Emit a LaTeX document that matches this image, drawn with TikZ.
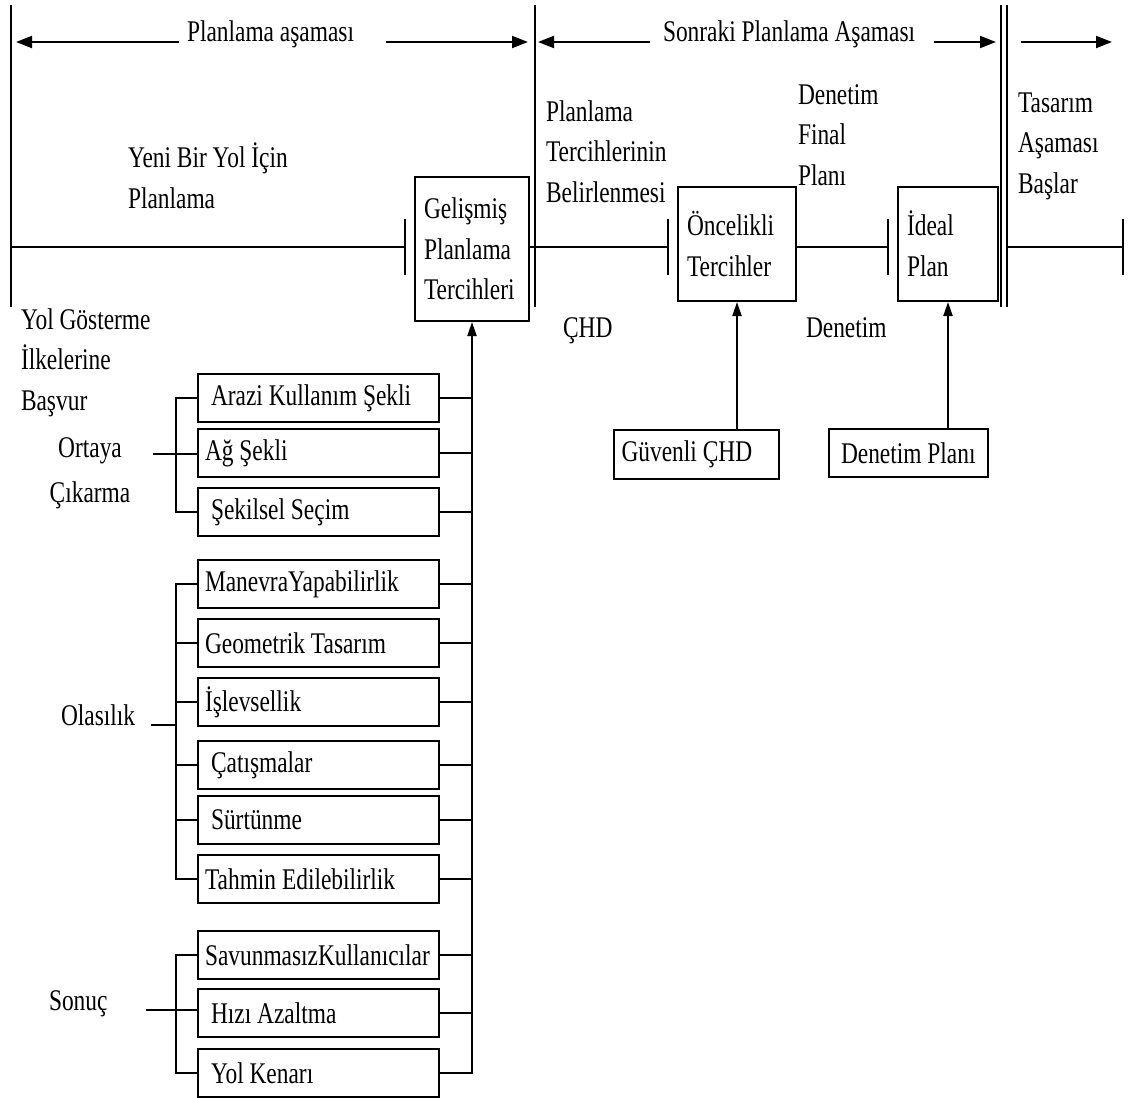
\documentclass[tikz,border=0pt]{standalone}
\usepackage{fontspec}
\setmainfont{Liberation Serif}[FakeStretch=0.78]
\usetikzlibrary{arrows.meta}
\usetikzlibrary{calc}
\newcommand{\stopmark}[1] % short upright bar on the time line
{
	\draw (#1) ++(0,-28) -- ++(0,56);
}
\tikzset{
	every node/.style={font=\fontsize{15pt}{20.25pt}\selectfont},
	note/.style={align=left, inner sep=0pt, anchor=base west},
	stagebox/.style={draw, fill=white, anchor=north west, inner xsep=4.5pt, execute at begin node={\spaceskip=0pt\relax}},
	optbox/.style={draw, fill=white, anchor=west, minimum width=120.5pt, minimum height=24pt, text width=113.5pt, inner xsep=3.5pt, execute at begin node={\spaceskip=0pt\relax}},
	indented/.style={execute at begin node={\spaceskip=0pt\relax\hspace{3pt}}},
	phase/.style={-{Triangle[length=8pt,width=6pt]}},
	feed/.style={-{Triangle[length=7pt,width=4.5pt]}}
}
\begin{document}
\begin{tikzpicture}[x=0.5pt, y=-0.5pt, line width=1pt]
	\useasboundingbox (0,0) rectangle (1129,1097);
	% phase borders
	\coordinate (start) at (11,5);
	\coordinate (mid) at (535,5);
	\coordinate (design) at (1001,5);
	\draw (start) -- ++(0,302);
	\draw (mid) -- ++(0,302);
	\draw (design) -- ++(0,302);
	\draw ([xshift=3pt]design) -- ++(0,302);
	
	% phase names with arrows
	\node[note] (planphase) at (186,42) {Planlama aşaması};
	\draw[phase] ([xshift=-3.5pt]planphase.base west) -- ([xshift=2.5pt]planphase.base west -| start);
	\draw[phase] ([xshift=15.5pt]planphase.base east) -- ([xshift=-3.5pt]planphase.base east -| mid);
	\node[note] (nextphase) at (662,42) {Sonraki Planlama Aşaması};
	\draw[phase] ([xshift=-6pt]nextphase.base west) -- ([xshift=1.5pt]nextphase.base west -| mid);
	\draw[phase] ([xshift=9pt]nextphase.base east) -- ([xshift=-2.5pt]nextphase.base east -| design);
	\coordinate (designarrow) at (1112,42);
	\draw[phase] ([xshift=10pt]design |- designarrow) -- (designarrow);
	
	% stages on the time line
	\node[stagebox, minimum width=57pt, minimum height=72pt, text width=48pt] (gelismis) at (414,176) {Gelişmiş\\Planlama\\Tercihleri};
	\node[stagebox, minimum width=59pt, minimum height=57pt, text width=50pt] (oncelikli) at (677,186) {Öncelikli\\Tercihler};
	\node[stagebox, minimum width=50pt, minimum height=57pt, text width=41pt, inner xsep=3pt] (ideal) at (897,186) {İdeal\\Plan};
	
	\coordinate (t1) at (405,247);
	\coordinate (t2) at (668,247);
	\coordinate (t3) at (888,247);
	\coordinate (t4) at (1123,247);
	\draw (start |- t1) -- (t1);
	\draw (gelismis.east |- t2) -- (t2);
	\draw (oncelikli.east |- t3) -- (t3);
	\draw ([xshift=3pt]design |- t4) -- (t4);
	\stopmark{t1}
	\stopmark{t2}
	\stopmark{t3}
	\stopmark{t4}
	
	% free labels (base = last line)
	\node[note] (yeniyol) at (127,208) {Yeni Bir Yol İçin\\Planlama};
	\node[note] (belirleme) at (545,202) {Planlama\\Tercihlerinin\\Belirlenmesi};
	\node[note] (finalplan) at (797,185) {Denetim\\Final\\Planı};
	\node[note] (tasarim) at (1017,193) {Tasarım\\Aşaması\\Başlar};
	\node[note] (ilkeler) at (20,410) {Yol Gösterme\\İlkelerine\\Başvur};
	\node[note] (chd) at (562,337) {ÇHD};
	\node[note] (denetim) at (805,337) {Denetim};
	
	% inputs from below
	\node[stagebox, minimum width=82.5pt, minimum height=24.5pt, text width=75pt, inner xsep=3.75pt] (guvenli) at (613,429) {Güvenli ÇHD};
	\node[stagebox, minimum width=79.5pt, minimum height=24pt, text width=77.5pt, inner xsep=1pt, execute at begin node={\spaceskip=0pt\relax\hspace{5pt}}] (denetimplani) at (828,428) {Denetim Planı};
	\draw[feed] (guvenli.north -| oncelikli.south) -- (oncelikli.south);
	\draw[feed] (denetimplani.north -| ideal.south) -- (ideal.south);
	
	% option boxes
	\node[optbox, indented] (arazi) at (197,398) {Arazi Kullanım Şekli};
	\node[optbox] (ag) at (197,453) {Ağ Şekli};
	\node[optbox, indented] (sekilsel) at (197,512) {Şekilsel Seçim};
	\node[optbox] (manevra) at (197,584) {ManevraYapabilirlik};
	\node[optbox] (geometrik) at (197,643) {Geometrik Tasarım};
	\node[optbox] (islev) at (197,702) {İşlevsellik};
	\node[optbox, indented] (catisma) at (197,765) {Çatışmalar};
	\node[optbox, indented] (surtunme) at (197,820) {Sürtünme};
	\node[optbox] (tahmin) at (197,879) {Tahmin Edilebilirlik};
	\node[optbox] (savunmasiz) at (197,955) {SavunmasızKullanıcılar};
	\node[optbox, indented] (hiz) at (197,1013) {Hızı Azaltma};
	\node[optbox, indented] (kenar) at (197,1073) {Yol Kenarı};
	
	% collecting line
	\draw[feed] (kenar.east) -| (gelismis.south);
	\foreach \b in {arazi,ag,sekilsel,manevra,geometrik,islev,catisma,surtunme,tahmin,savunmasiz,hiz}
		\draw (\b.east) -- (\b.east -| gelismis.south);
	
	% groups
	\node[note, align=center, anchor=base] (ortaya) at (90,502) {Ortaya\\[2pt]Çıkarma};
	\node[note] (olasilik) at (60,725) {Olasılık};
	\node[note] (sonuc) at (48,1010) {Sonuç};
	\coordinate (bracket) at (176,0);
	\coordinate (ortayastem) at ([xshift=11pt,yshift=24pt]ortaya.base east);
	
	\draw (arazi.west) -- (arazi.west -| bracket) |- (sekilsel.west);
	\draw (ortayastem) -- (ortayastem -| ag.west);
	
	\draw (manevra.west) -- (manevra.west -| bracket) |- (tahmin.west);
	\draw (geometrik.west) -- (geometrik.west -| bracket);
	\draw (islev.west) -- (islev.west -| bracket);
	\draw (catisma.west) -- (catisma.west -| bracket);
	\draw (surtunme.west) -- (surtunme.west -| bracket);
	\draw ([xshift=7.5pt]olasilik.base east) -- (olasilik.base -| bracket);
	
	\draw (savunmasiz.west) -- (savunmasiz.west -| bracket) |- (kenar.west);
	\draw ([xshift=18.5pt]sonuc.base east) -- (sonuc.base -| hiz.west);
\end{tikzpicture}
\end{document}
